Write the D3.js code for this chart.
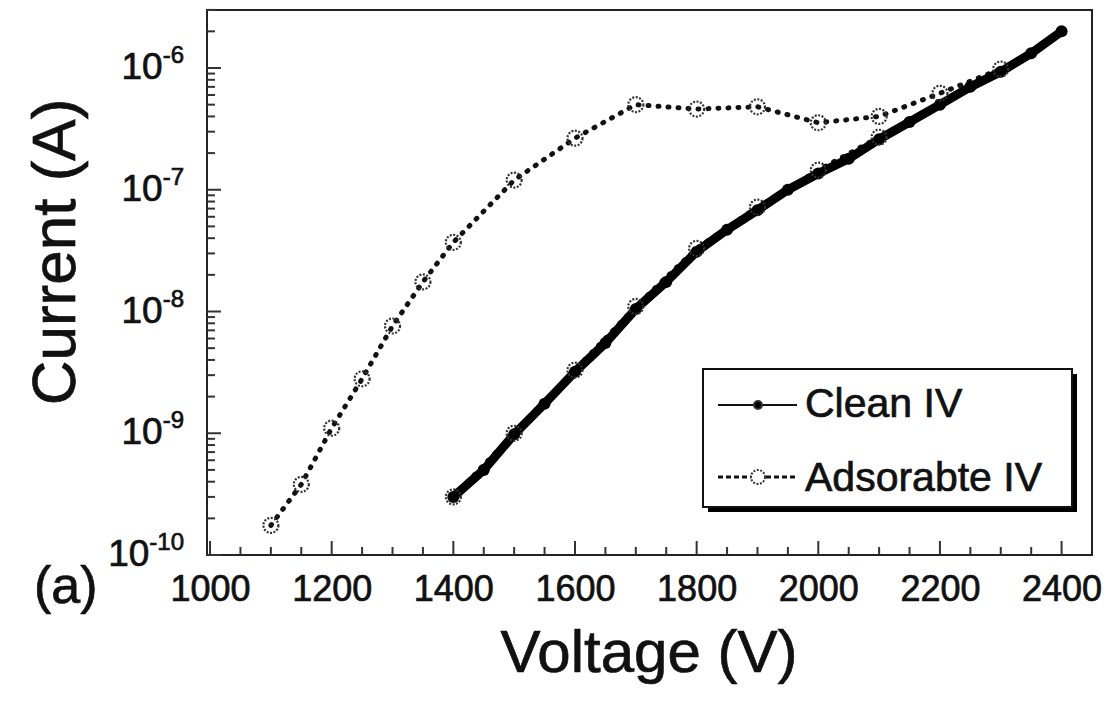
<!DOCTYPE html>
<html>
<head>
<meta charset="utf-8">
<script src="https://cdn.jsdelivr.net/npm/d3@7"></script>
<style>
  body { margin: 0; background: #fff; }
  svg { display: block; font-family: "Liberation Sans", Arial, Helvetica, sans-serif; }
  svg text { stroke: #111; stroke-width: 0.7px; }
</style>
</head>
<body>
<svg class="chart" width="1110" height="701"></svg>
<script>
// values
var cleanVoltage = [1400, 1450, 1500, 1550, 1600, 1650, 1700, 1750, 1800, 1850, 1900,
                    1950, 2000, 2050, 2100, 2150, 2200, 2250, 2300, 2350, 2400];
var cleanCurrent = [3.0e-10, 5.0e-10, 9.8e-10, 1.75e-9, 3.2e-9, 5.5e-9, 1.05e-8, 1.75e-8, 3.1e-8, 4.7e-8, 6.8e-8,
                    1.0e-7, 1.36e-7, 1.8e-7, 2.6e-7, 3.6e-7, 5.0e-7, 7.0e-7, 9.3e-7, 1.32e-6, 2.0e-6];

var adsorbVoltage = [1100, 1150, 1200, 1250, 1300, 1350, 1400, 1500, 1600, 1700, 1800, 1900, 2000, 2100, 2200, 2300];
var adsorbCurrent = [1.75e-10, 3.8e-10, 1.1e-9, 2.8e-9, 7.6e-9, 1.75e-8, 3.7e-8, 1.2e-7, 2.65e-7, 5.0e-7,
                     4.6e-7, 4.8e-7, 3.55e-7, 4.0e-7, 6.2e-7, 9.8e-7];

// second adsorbate branch, lying on the clean curve
var adsorbLowVoltage = [1400, 1500, 1600, 1700, 1800, 1900, 2000, 2100];
var adsorbLowCurrent = [3.0e-10, 1.0e-9, 3.3e-9, 1.1e-8, 3.3e-8, 7.2e-8, 1.45e-7, 2.7e-7];

var xTickValues = [1000, 1200, 1400, 1600, 1800, 2000, 2200, 2400];
var yTickExponents = [-10, -9, -8, -7, -6];
var seriesNames = ["Clean IV", "Adsorabte IV"];

var svg = d3.select(".chart");

// plot box (note: "top" is taken by window.top)
var pLeft = 207, pRight = 1092, pTop = 10, pBottom = 555;

var x = d3.scaleLinear()
	.domain([995, 2450])
	.range([pLeft, pRight]);

var y = d3.scaleLog()
	.domain([1e-10, 1e-6])
	.range([pBottom, 68]);

// minor ticks every 50 V, every 1..9 per decade
var xMinor = d3.range(1000, 2450, 50).filter(v => v % 200 != 0);
var yMinor = [];
yTickExponents.slice(0, -1).forEach(function(e) {
	for (var k = 2; k <= 9; k++) yMinor.push(k * Math.pow(10, e));
});
for (var k = 2; k <= 3; k++) yMinor.push(k * 1e-6);

// frame
svg.append("rect")
	.attr("x", pLeft).attr("y", pTop)
	.attr("width", pRight - pLeft).attr("height", pBottom - pTop)
	.attr("fill", "none")
	.attr("stroke", "#222")
	.attr("stroke-width", 2);

// inward ticks, drawn straight from the scales
var xTicks = xTickValues.map(v => ({v: v, len: 14})).concat(xMinor.map(v => ({v: v, len: 8})));
var yTicks = yTickExponents.map(e => ({v: Math.pow(10, e), len: 14})).concat(yMinor.map(v => ({v: v, len: 8})));

svg.append("g").selectAll("line").data(xTicks).enter().append("line")
	.attr("x1", d => x(d.v)).attr("x2", d => x(d.v))
	.attr("y1", pBottom).attr("y2", d => pBottom - d.len)
	.style("stroke", "#333")
	.style("stroke-width", "2px");

svg.append("g").selectAll("line").data(yTicks).enter().append("line")
	.attr("y1", d => y(d.v)).attr("y2", d => y(d.v))
	.attr("x1", pLeft).attr("x2", d => pLeft + d.len)
	.style("stroke", "#333")
	.style("stroke-width", "2px");

// x tick labels via the axis, tick marks hidden
svg.append("g")
	.attr("transform", `translate(0,${pBottom})`)
	.call(d3.axisBottom(x).tickValues(xTickValues).tickSize(0).tickPadding(20).tickFormat(d3.format("d")))
	.call(g => g.select(".domain").remove())
	.call(g => g.selectAll("text").attr("font-size", 36).attr("fill", "#111").attr("font-family", null));

var yLabels = svg.append("g")
	.selectAll("text").data(yTickExponents).enter().append("text")
		.attr("x", 184)
		.attr("y", e => y(Math.pow(10, e)) + 11)
		.attr("text-anchor", "end")
		.attr("fill", "#111");
yLabels.append("tspan").attr("font-size", 37).text("10");
yLabels.append("tspan").attr("font-size", 24).attr("dy", -16).text(e => "-" + Math.abs(e));

// axis titles
svg.append("text")
	.attr("transform", "translate(75,252) rotate(-90)")
	.attr("text-anchor", "middle")
	.attr("font-size", 62)
	.attr("fill", "#111")
	.text("Current (A)");

svg.append("text")
	.attr("x", 649).attr("y", 672)
	.attr("text-anchor", "middle")
	.attr("font-size", 60)
	.attr("fill", "#111")
	.text("Voltage (V)");

svg.append("text")
	.attr("x", 34).attr("y", 603)
	.attr("font-size", 52)
	.attr("fill", "#111")
	.text("(a)");

// lines
var line = d3.line()
	.x(d => x(d[0]))
	.y(d => y(d[1]));

var adsorb = d3.zip(adsorbVoltage, adsorbCurrent);
var adsorbLow = d3.zip(adsorbLowVoltage, adsorbLowCurrent);
var clean = d3.zip(cleanVoltage, cleanCurrent);

[adsorb, adsorbLow].forEach(function(data) {
	svg.append("path")
		.datum(data)
		.attr("d", line)
		.attr("fill", "none")
		.attr("stroke", "#111")
		.attr("stroke-width", 5)
		.attr("stroke-linecap", "round")
		.attr("stroke-dasharray", "1,9");
});

svg.append("path")
	.datum(clean)
	.attr("d", line)
	.attr("fill", "none")
	.attr("stroke", "#000")
	.attr("stroke-width", 9)
	.attr("stroke-linejoin", "round")
	.attr("stroke-linecap", "round");

svg.append("g")
	.selectAll("circle").data(clean).enter().append("circle")
		.attr("cx", d => x(d[0]))
		.attr("cy", d => y(d[1]))
		.attr("r", 6)
		.attr("fill", "#000");

svg.append("g")
	.selectAll("circle").data(adsorb.concat(adsorbLow)).enter().append("circle")
		.attr("cx", d => x(d[0]))
		.attr("cy", d => y(d[1]))
		.attr("r", 7.5)
		.attr("fill", "none")
		.attr("stroke", "#333")
		.attr("stroke-width", 2.2)
		.attr("stroke-dasharray", "2,1.5");

// legend
var lg = svg.append("g");
lg.append("rect")
	.attr("x", 708).attr("y", 374)
	.attr("width", 369).attr("height", 138)
	.attr("fill", "#000");
lg.append("rect")
	.attr("x", 703).attr("y", 369)
	.attr("width", 369).attr("height", 138)
	.attr("fill", "#fff")
	.attr("stroke", "#111")
	.attr("stroke-width", 2);

var rows = lg.selectAll(".row").data(seriesNames).enter().append("g")
	.attr("class", "row")
	.attr("transform", (d, i) => `translate(0,${i == 0 ? 405 : 477})`);

rows.append("line")
	.attr("x1", 718).attr("x2", 797)
	.attr("stroke", "#111")
	.attr("stroke-width", (d, i) => i == 0 ? 2 : 3)
	.attr("stroke-dasharray", (d, i) => i == 0 ? null : "5,3");

rows.append("circle")
	.attr("cx", 758)
	.attr("r", (d, i) => i == 0 ? 4 : 7)
	.attr("fill", (d, i) => i == 0 ? "#000" : "#fff")
	.attr("stroke", "#333")
	.attr("stroke-width", 2)
	.attr("stroke-dasharray", (d, i) => i == 0 ? null : "2,1.5");

rows.append("text")
	.attr("x", 805)
	.attr("y", (d, i) => i == 0 ? 12 : 14)
	.attr("font-size", 41)
	.attr("fill", "#111")
	.text(d => d);
</script>
</body>
</html>
